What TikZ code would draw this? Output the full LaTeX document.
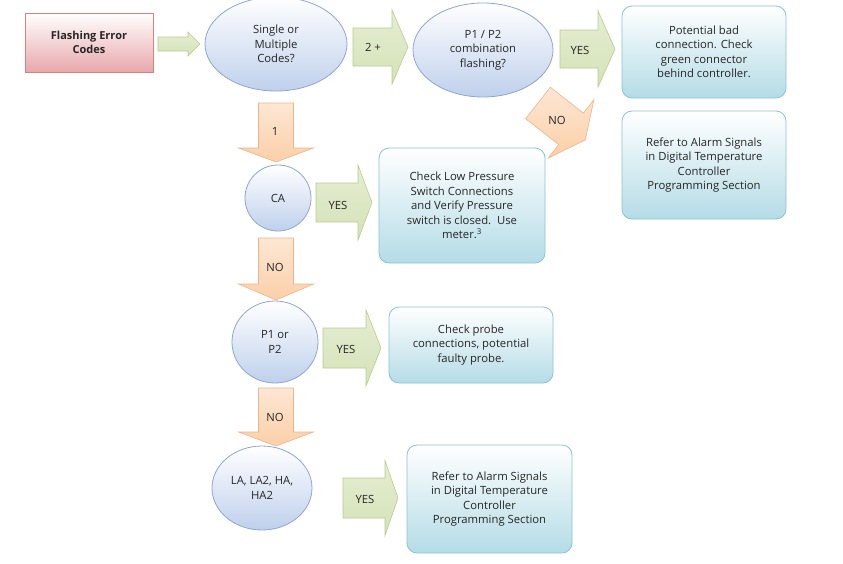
\documentclass[tikz,border=0pt]{standalone}
\usepackage{fontspec}
\setmainfont{Open Sans}
\usetikzlibrary{shapes.geometric}
\definecolor{gfill}{HTML}{D4E2B6}
\definecolor{gline}{HTML}{B9CC8E}
\definecolor{ofill}{HTML}{FBCFA8}
\definecolor{oline}{HTML}{F0B488}
\definecolor{bfill}{HTML}{BFD0EC}
\definecolor{bline}{HTML}{8FA6CF}
\definecolor{cfill}{HTML}{B4DCE6}
\definecolor{cline}{HTML}{8CC3D3}
\definecolor{pfill}{HTML}{E8A8AC}
\definecolor{pline}{HTML}{C0504D}
\newcommand\blkarrow[8]{% x,y,rot,L,b,h,k,style
  \begin{scope}[shift={(#1,#2)},rotate=#3]
  \path[#8] (0,-#5)--(#4-#7,-#5)--(#4-#7,-#6)--(#4,0)--(#4-#7,#6)--(#4-#7,#5)--(0,#5)--cycle;
  \end{scope}}
\begin{document}
\begin{tikzpicture}[x=1pt,y=-1pt,
  txt/.style={font=\fontsize{11.3}{14.5}\selectfont,align=center,text=black!85},
  garrow/.style={draw=gline,top color=gfill!60,bottom color=gfill,line width=0.6pt},
  oarrow/.style={draw=oline,top color=ofill!50,bottom color=ofill,line width=0.6pt},
  bell/.style={ellipse,draw=bline,top color=white,bottom color=bfill,line width=0.8pt,inner sep=0pt,txt},
  cbox/.style={rectangle,rounded corners=10pt,draw=cline,top color=white,bottom color=cfill,line width=0.8pt,inner sep=2pt,txt},
  lbl/.style={txt}]
\useasboundingbox (0,0) rectangle (843,563);
\fill[white] (0,0) rectangle (843,563);
% nodes
\node[rectangle,draw=pline!70,top color=white,bottom color=pfill,line width=0.8pt,minimum width=128,minimum height=59,txt,font=\fontsize{11}{14.5}\selectfont\bfseries] (fec) at (89,42.5) {Flashing Error\\Codes};
\node[bell,minimum width=142,minimum height=94] (smc) at (276,44) {Single or\\Multiple\\Codes?};
\node[bell,minimum width=140,minimum height=94] (p12) at (483,50) {P1 / P2\\combination\\flashing?};
\node[cbox,minimum width=164,minimum height=92] (pbc) at (704,52) {Potential bad\\connection. Check\\green connector\\behind controller.};
\node[cbox,minimum width=164,minimum height=108] (ref1) at (704,165) {Refer to Alarm Signals\\in Digital Temperature\\Controller\\Programming Section};
\node[bell,minimum width=66,minimum height=66] (ca) at (278,198) {CA};
\node[cbox,minimum width=166,minimum height=115] (clp) at (462,205.5) {Check Low Pressure\\Switch Connections\\and Verify Pressure\\switch is closed.\ \ Use\\meter.\textsuperscript{3}};
\node[bell,minimum width=86,minimum height=82] (p1p2) at (275,342) {P1 or\\P2};
\node[cbox,minimum width=164,minimum height=76] (cpc) at (471,345) {Check probe\\connections, potential\\faulty probe.};
\node[bell,minimum width=100,minimum height=84] (la) at (262,488) {LA, LA2, HA,\\HA2};
\node[cbox,minimum width=165,minimum height=108] (ref2) at (489.5,499) {Refer to Alarm Signals\\in Digital Temperature\\Controller\\Programming Section};
% block arrows
\blkarrow{158}{44}{0}{42}{7}{12}{12}{garrow}
\blkarrow{353}{47}{0}{55}{19}{37}{16}{garrow}
\blkarrow{560}{49}{0}{55}{19}{38}{17}{garrow}
\blkarrow{276}{103}{-90}{59}{17.5}{37.5}{14}{oarrow}
\blkarrow{316}{202.5}{0}{56}{19.5}{37.5}{14}{garrow}
\blkarrow{276}{238}{-90}{62}{17.5}{37.5}{16}{oarrow}
\blkarrow{323}{348}{0}{58}{20}{38}{15}{garrow}
\blkarrow{276}{388}{-90}{58}{17.5}{37.5}{14}{oarrow}
\blkarrow{343}{498}{0}{55}{20}{37.5}{13}{garrow}
\blkarrow{538}{103}{-38}{60}{20}{37}{18}{oarrow}
% labels
\node[lbl] (l2) at (373,47) {2 +};
\node[lbl] (ly1) at (580,50) {YES};
\node[lbl] (lno1) at (557,120) {NO};
\node[lbl] (l1) at (275,131) {1};
\node[lbl] (ly2) at (338,205) {YES};
\node[lbl] (lno2) at (275,267) {NO};
\node[lbl] (ly3) at (346,349) {YES};
\node[lbl] (lno3) at (275,417) {NO};
\node[lbl] (ly4) at (365,499) {YES};
\end{tikzpicture}
\end{document}
